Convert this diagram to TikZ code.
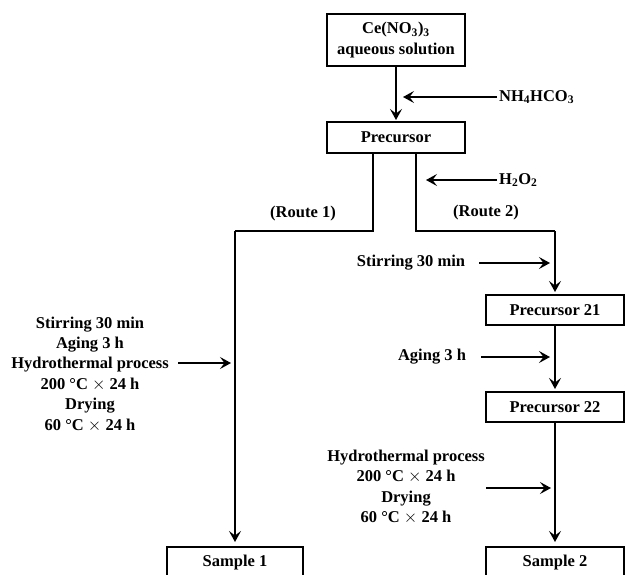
\documentclass[tikz,border=0pt]{standalone}
\usepackage{fontspec}
\setmainfont{Liberation Serif}
\usetikzlibrary{arrows.meta}

\begin{document}
\begin{tikzpicture}[x=1pt, y=-1pt,
			 caja/.style={draw, line width=2pt, minimum width=138pt, inner sep=0pt, align=center},
			 texto/.style={align=center, inner sep=2pt},
			 linea/.style={line width=2.2pt},
			 flecha/.style={line width=2.2pt, -{Stealth[length=11pt, width=12pt, inset=4.5pt]}},
			 every node/.style={font=\bfseries\fontsize{16.5}{20.4}\selectfont}
  		]
	\useasboundingbox (0,0) rectangle (626,574);
	\clip (0,0) rectangle (626,574);

	%Cajas
		\node[caja, minimum height=52pt] (ce) at (396,40) {Ce(NO\textsubscript{3})\textsubscript{3}\\aqueous solution};
		\node[caja, minimum height=31pt] (prec) at (396,137.5) {Precursor};
		\node[caja, minimum height=30pt] (p21) at (555,310) {Precursor 21};
		\node[caja, minimum height=30pt] (p22) at (555,407) {Precursor 22};
		\node[caja, minimum width=136pt, minimum height=32pt] (s1) at (235,563) {Sample 1};
		\node[caja, minimum height=32pt] (s2) at (555,563) {Sample 2};
	%Textos
		\node[texto, anchor=west] (nh) at (497,97) {NH\textsubscript{4}HCO\textsubscript{3}};
		\node[texto, anchor=west] (h2o2) at (497,180) {H\textsubscript{2}O\textsubscript{2}};
		\node[texto] (r1t) at (303,214) {(Route 1)};
		\node[texto] (r2t) at (486,213) {(Route 2)};
		\node[texto] (stir) at (411,263) {Stirring 30 min};
		\node[texto] (aging) at (432,357) {Aging 3 h};
		\node[texto] (izq) at (90,374) {Stirring 30 min\\Aging 3 h\\Hydrothermal process\\200 °C $\times$ 24 h\\Drying\\60 °C $\times$ 24 h};
		\node[texto] (der) at (406,487) {Hydrothermal process\\200 °C $\times$ 24 h\\Drying\\60 °C $\times$ 24 h};
	%Puntos
		\coordinate (c1) at (403,97);
		\coordinate (c2) at (426,180);
		\coordinate (r1) at (235,231);
		\coordinate (r2) at (555,231);
		\coordinate (c3) at (550,263);
		\coordinate (c4) at (550,357);
		\coordinate (c5) at (178,363);
		\coordinate (c6) at (231,363);
		\coordinate (c7) at (486,488);
		\coordinate (c8) at (551,488);
	%Flechas principales
		\draw[flecha, shorten >=1pt] (ce) -- (prec);
		\draw[linea] ([xshift=-23pt]prec.south) |- (r1);
		\draw[flecha, shorten >=4pt] (r1) -- (s1.north);
		\draw[linea] ([xshift=20pt]prec.south) |- (r2);
		\draw[flecha, shorten >=2pt] (r2) -- (p21);
		\draw[flecha, shorten >=2pt] (p21) -- (p22);
		\draw[flecha, shorten >=4pt] (p22) -- (s2);
	%Flechas de entrada
		\draw[flecha] (nh.west) -- (c1);
		\draw[flecha] (h2o2.west) -- (c2);
		\draw[flecha] ([xshift=12pt]stir.east) -- (c3);
		\draw[flecha] ([xshift=13pt]aging.east) -- (c4);
		\draw[flecha] (c5) -- (c6);
		\draw[flecha] (c7) -- (c8);
	\end{tikzpicture}
\end{document}
